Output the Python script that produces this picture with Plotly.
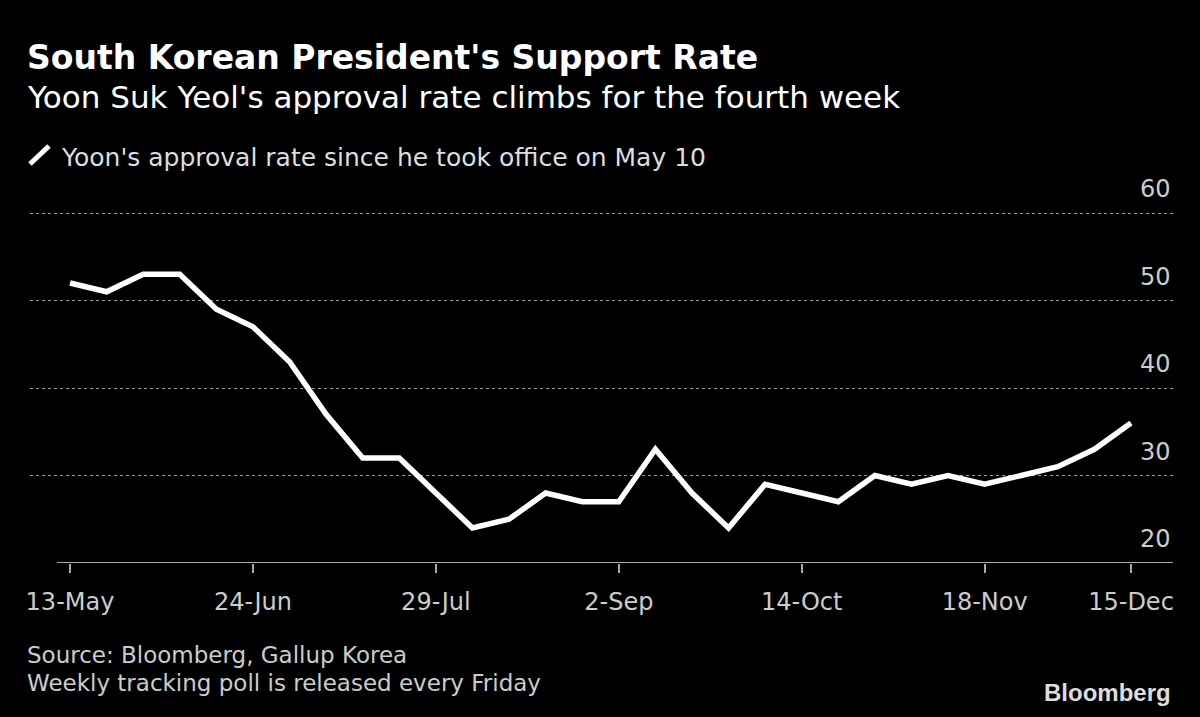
import plotly.graph_objects as go

# ---- data ----
week_labels = ["13-May", "20-May", "27-May", "10-Jun", "17-Jun", "24-Jun",
               "1-Jul", "8-Jul", "15-Jul", "22-Jul", "29-Jul",
               "5-Aug", "12-Aug", "19-Aug", "26-Aug", "2-Sep",
               "16-Sep", "23-Sep", "30-Sep", "7-Oct", "14-Oct",
               "21-Oct", "28-Oct", "4-Nov", "11-Nov", "18-Nov",
               "25-Nov", "2-Dec", "9-Dec", "15-Dec"]
approval = [52, 51, 53, 53, 49, 47, 43, 37, 32, 32, 28, 24, 25, 28, 27, 27,
            33, 28, 24, 29, 28, 27, 30, 29, 30, 29, 30, 31, 33, 36]
x_tick_labels = ["13-May", "24-Jun", "29-Jul", "2-Sep", "14-Oct", "18-Nov", "15-Dec"]
y_ticks = [20, 30, 40, 50, 60]

title = "South Korean President's Support Rate"
subtitle = "Yoon Suk Yeol's approval rate climbs for the fourth week"
legend_text = "Yoon's approval rate since he took office on May 10"
source_lines = ["Source: Bloomberg, Gallup Korea",
                "Weekly tracking poll is released every Friday"]

FONT = "DejaVu Sans, sans-serif"
W, H = 1200, 717
ML, MR, MT, MB = 30, 27, 212, 154
PW, PH = W - ML - MR, H - MT - MB


def px(xp):
    return (xp - ML) / PW


def py(yp):
    return (H - MB - yp) / PH


fig = go.Figure()
fig.add_trace(go.Scatter(
    x=week_labels, y=approval, mode="lines",
    line=dict(color="white", width=5.5), hoverinfo="skip", showlegend=False,
    cliponaxis=False,
))

n = len(week_labels)
x_left = -(70 - ML) / ((1131 - 70) / (n - 1))
x_right = (n - 1) + (W - MR - 1131) / ((1131 - 70) / (n - 1))

fig.update_layout(
    width=W, height=H,
    paper_bgcolor="black", plot_bgcolor="black",
    margin=dict(l=ML, r=MR, t=MT, b=MB, pad=0),
    font=dict(family=FONT, color="#cccccc"),
    xaxis=dict(
        type="category", range=[x_left, x_right],
        tickmode="array", tickvals=x_tick_labels, ticktext=x_tick_labels,
        ticks="outside", ticklen=9, tickwidth=2, tickcolor="#aaaaaa",
        showline=False, showgrid=False, zeroline=False,
        tickfont=dict(size=24, color="#cccccc", family=FONT),
        ticklabelstandoff=8,
    ),
    yaxis=dict(
        range=[20, 60.12], side="right",
        tickmode="array", tickvals=y_ticks, showticklabels=False,
        showgrid=True, gridcolor="#9a9a9a", griddash="dot", gridwidth=1,
        zeroline=False, showline=False, ticks="",
    ),
    showlegend=False,
)

# y tick labels above the gridlines, right aligned
for v in y_ticks:
    fig.add_annotation(text=str(v), xref="paper", yref="y", x=1, y=v,
                       xanchor="right", yanchor="bottom", yshift=8,
                       showarrow=False,
                       font=dict(size=24, color="#cccccc", family=FONT))

# x-axis baseline
fig.add_shape(type="line", xref="paper", yref="y",
              x0=px(57), x1=1, y0=20, y1=20,
              line=dict(color="#aaaaaa", width=2))

# legend icon
fig.add_shape(type="line", xref="paper", yref="paper",
              x0=px(30), y0=py(164), x1=px(49), y1=py(146),
              line=dict(color="white", width=5))

annotations = [
    dict(text="<b>" + title + "</b>", x=px(25), y=py(58),
         font=dict(size=33, color="white", family=FONT)),
    dict(text=subtitle, x=px(25), y=py(97),
         font=dict(size=31, color="white", family=FONT)),
    dict(text=legend_text, x=px(59), y=py(157),
         font=dict(size=25, color="#dddddd", family=FONT)),
    dict(text=source_lines[0], x=px(25), y=py(655),
         font=dict(size=23, color="#cccccc", family=FONT)),
    dict(text=source_lines[1], x=px(25), y=py(683),
         font=dict(size=23, color="#cccccc", family=FONT)),
]
for a in annotations:
    a.update(xref="paper", yref="paper", xanchor="left", yanchor="middle",
             showarrow=False, align="left")
    fig.add_annotation(**a)

fig.add_annotation(text="<b>Bloomberg</b>", xref="paper", yref="paper",
                   x=1, y=py(692), xanchor="right", yanchor="middle",
                   showarrow=False,
                   font=dict(size=24, color="#dddddd",
                             family="Liberation Sans, Arial, sans-serif"))

fig.write_html(
    "out.html",
    config={"displayModeBar": False},
    post_script="document.body.style.margin='0';"
                "document.body.style.background='black';"
                "document.body.style.overflow='hidden';",
)
